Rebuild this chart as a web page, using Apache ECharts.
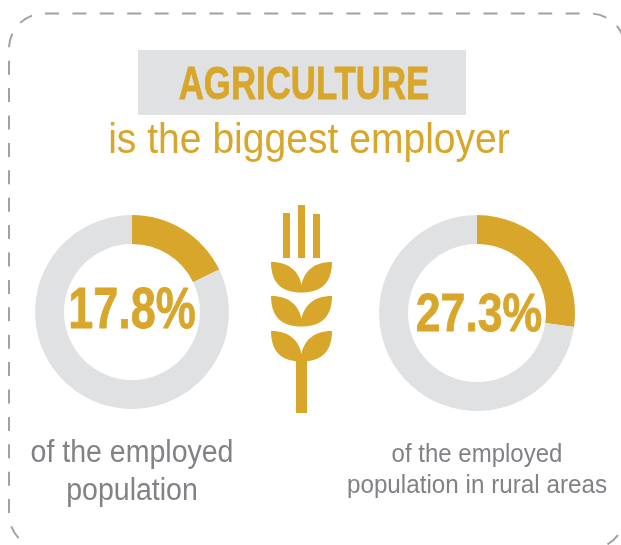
<!DOCTYPE html>
<html><head><meta charset="utf-8">
<style>html,body{margin:0;padding:0;background:#fff}#c{width:621px;height:545px}</style>
<script src="https://cdn.jsdelivr.net/npm/echarts@6/dist/echarts.min.js"></script></head>
<body><div id="c"></div>
<script>
const shareValues = [17.8, 27.3];
const shareLabels = ['17.8%', '27.3%'];
const captionsLeft = ['of the employed', 'population'];
const captionsRight = ['of the employed', 'population in rural areas'];
const titleText = 'AGRICULTURE';
const subtitleText = 'is the biggest employer';
const gold = '#D8A62A', grey = '#E0E1E3', textGrey = '#808285', dash = '#A0A1A4';
const font = '"Liberation Sans",sans-serif';
const rad = d => d * Math.PI / 180;

echarts.graphic.registerShape('wheatLeaf', echarts.graphic.extendShape({
  shape:{y:0},
  buildPath(ctx, s){
    const y = s.y;
    ctx.moveTo(271,y);
    ctx.bezierCurveTo(290,y,299,y+10,301.5,y+23);
    ctx.bezierCurveTo(304,y+10,313,y,332,y);
    ctx.bezierCurveTo(332,y+21,321,y+30.5,301.5,y+30.5);
    ctx.bezierCurveTo(282,y+30.5,271,y+21,271,y);
    ctx.closePath();
  }
}));
// Dashed frame: each subpath restarts the dash pattern
echarts.graphic.registerShape('dashFrame', echarts.graphic.extendShape({
  shape:{},
  buildPath(ctx){
    ctx.moveTo(45,13.5);
    ctx.lineTo(590,13.5);
    ctx.arc(590,48.5,35,rad(-90),rad(0),false);
    ctx.moveTo(44+35*Math.cos(rad(-110)),48.5+35*Math.sin(rad(-110)));
    ctx.arc(44,48.5,35,rad(-110),rad(-180),true);
    ctx.lineTo(9,514);
    ctx.arc(44,514,35,rad(180),rad(90),true);
    ctx.moveTo(590+35*Math.cos(rad(37)),514+35*Math.sin(rad(37)));
    ctx.arc(590,514,35,rad(37),rad(65),false);
  }
}));

const chart = echarts.init(document.getElementById('c'), null, {renderer:'canvas'});
function donut(value, center, outer, inner){
  return {type:'pie', center, radius:[inner,outer], startAngle:90, clockwise:true, silent:true,
    label:{show:false}, labelLine:{show:false}, itemStyle:{borderWidth:0},
    data:[{value, itemStyle:{color:gold}},{value:100-value, itemStyle:{color:grey}}]};
}
function txt(text,x,y,size,color,weight,sx,bold){
  const style = {text, fill:color, font:(weight||'normal')+' '+size+'px '+font, textAlign:'center', textVerticalAlign:'middle'};
  if (bold) { style.stroke = color; style.lineWidth = bold; }
  return {type:'text', x, y, scaleX:sx||1, style, z:10};
}
function leaf(y){ return {type:'wheatLeaf', shape:{y}, style:{fill:gold}}; }
function rect(x,y,w,h,fill){return {type:'rect', shape:{x,y,width:w,height:h}, style:{fill}};}
chart.setOption({
  animation:false,
  series:[donut(shareValues[0],[132,312],97,68), donut(shareValues[1],[477,313],98,69)],
  graphic:[
    {type:'dashFrame', shape:{}, style:{fill:'none',stroke:dash,lineWidth:2,lineDash:[14,13.4]}},
    rect(138,50,328,65,grey),
    txt(titleText,304,86,47,gold,'bold',0.74,0.8),
    txt(subtitleText,309,141,42,gold,'normal',0.93),
    rect(283,213,7,45,gold), rect(298,205,7,53,gold), rect(313,214,7,44,gold),
    leaf(262), leaf(296), leaf(331),
    rect(296,358,11,55,gold),
    txt(shareLabels[0],132,312,58,gold,'bold',0.775,0.8),
    txt(shareLabels[1],479,316,54,gold,'bold',0.826,0.8),
    txt(captionsLeft[0],132,453,31,textGrey,'normal',0.92),
    txt(captionsLeft[1],132,491,31,textGrey,'normal',0.92),
    txt(captionsRight[0],477,455,25,textGrey,'normal',0.96),
    txt(captionsRight[1],477,486,25,textGrey,'normal',0.97)
  ]
});
</script></body></html>
